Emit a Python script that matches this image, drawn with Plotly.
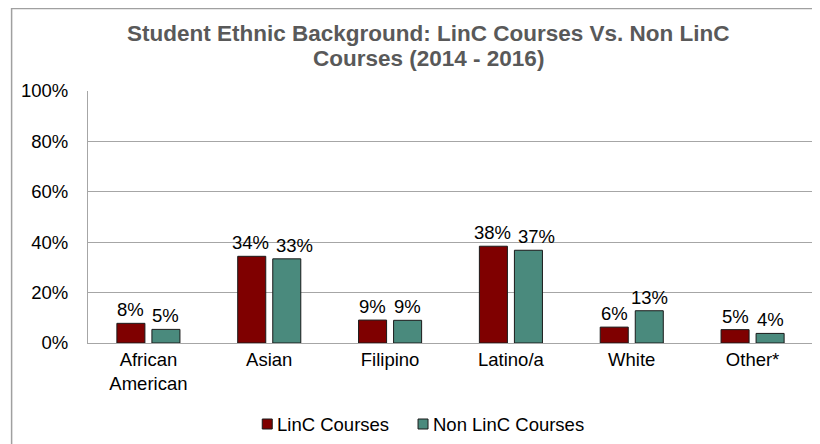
import plotly.graph_objects as go

# data
categories = ["African<br>American", "Asian", "Filipino", "Latino/a", "White", "Other*"]
linc_values = [0.078, 0.344, 0.091, 0.384, 0.063, 0.053]
non_linc_values = [0.054, 0.334, 0.090, 0.368, 0.128, 0.038]
series_names = ["LinC Courses", "Non LinC Courses"]
series_colors = ["#7F0000", "#4A8A7D"]
y_ticks = [0, 0.2, 0.4, 0.6, 0.8, 1.0]
y_tick_labels = ["0%", "20%", "40%", "60%", "80%", "100%"]
title_lines = ["Student Ethnic Background: LinC Courses Vs. Non LinC",
               "Courses (2014 - 2016)"]

FONT = "Liberation Sans, Arial, sans-serif"
SIZE = 18.5

# the page body adds an 8px offset, so figure coords are screen coords - 8
PLOT_L, PLOT_R, PLOT_T, PLOT_B = 79.5, 805.5, 83, 335
W, H = 820, 444
plot_h = PLOT_B - PLOT_T
plot_w = PLOT_R - PLOT_L
BARGAP, GROUPGAP = 0.42, 0.2


def px_to_paper_y(y):
    return (PLOT_B - y) / plot_h


def px_to_paper_x(x):
    return (x - PLOT_L) / plot_w


fig = go.Figure()
for name, vals, color in zip(series_names, [linc_values, non_linc_values], series_colors):
    fig.add_trace(go.Bar(
        x=categories, y=vals, name=name,
        marker=dict(color=color, line=dict(color="#1a1a1a", width=1)),
    ))

fig.update_layout(
    width=W, height=H,
    margin=dict(l=PLOT_L, r=W - PLOT_R, t=PLOT_T, b=H - PLOT_B, autoexpand=False),
    paper_bgcolor="white", plot_bgcolor="white",
    font=dict(family=FONT, size=SIZE, color="#000000"),
    barmode="group", bargap=BARGAP, bargroupgap=GROUPGAP,
    showlegend=False,
)

# data labels; Excel nudges a pair apart when both are 2-digit and would touch
slot = plot_w / len(categories) * (1 - BARGAP) / 2
for cat, a, b in zip(categories, linc_values, non_linc_values):
    wide = round(a * 100) >= 10 and round(b * 100) >= 10
    for v, sign, nudge in [(a, -1, -1 if wide else 0), (b, 1, 8 if wide else 0)]:
        fig.add_annotation(
            text=f"{v:.0%}", x=cat, y=v, xref="x", yref="y",
            xanchor="center", yanchor="bottom", showarrow=False,
            xshift=sign * slot / 2 + nudge, yshift=1,
            font=dict(family=FONT, size=SIZE, color="#000000"),
        )

# two-line title, placed line by line to get the tighter line spacing
for line, y_px in zip(title_lines, [26, 50]):
    fig.add_annotation(
        text=line, xref="paper", yref="paper",
        x=px_to_paper_x(420), y=px_to_paper_y(y_px),
        xanchor="center", yanchor="middle", showarrow=False,
        font=dict(family=FONT, size=22.5, color="#595959", weight="bold"),
    )

# hand-built legend (Excel style: small square right next to the text)
legend_y = 416
for name, color, x_px in zip(series_names, series_colors, [254, 410]):
    fig.add_shape(type="rect", xref="paper", yref="paper",
                  x0=px_to_paper_x(x_px), x1=px_to_paper_x(x_px + 10),
                  y0=px_to_paper_y(legend_y + 5), y1=px_to_paper_y(legend_y - 5),
                  fillcolor=color, line=dict(color="#1a1a1a", width=1))
    fig.add_annotation(
        text=name, xref="paper", yref="paper",
        x=px_to_paper_x(x_px + 13), y=px_to_paper_y(legend_y),
        xanchor="left", yanchor="middle", showarrow=False,
        font=dict(family=FONT, size=SIZE, color="#000000"),
    )

fig.update_yaxes(
    range=[0, 1], tickvals=y_ticks, ticktext=y_tick_labels,
    showgrid=True, gridcolor="#A6A6A6", gridwidth=1,
    showline=True, linecolor="#A6A6A6", zeroline=False, ticks="",
    ticklabelstandoff=15,
)
fig.update_xaxes(
    showline=True, linecolor="#A6A6A6", ticks="", tickfont=dict(size=SIZE),
)

# outer chart frame, cut off on the right and bottom like the reference
fig.add_shape(type="rect", xref="paper", yref="paper",
              x0=px_to_paper_x(3), x1=1.2, y0=-0.6, y1=px_to_paper_y(0.5),
              line=dict(color="#A0A0A0", width=1.5), layer="below")

fig.write_html("out.html")
